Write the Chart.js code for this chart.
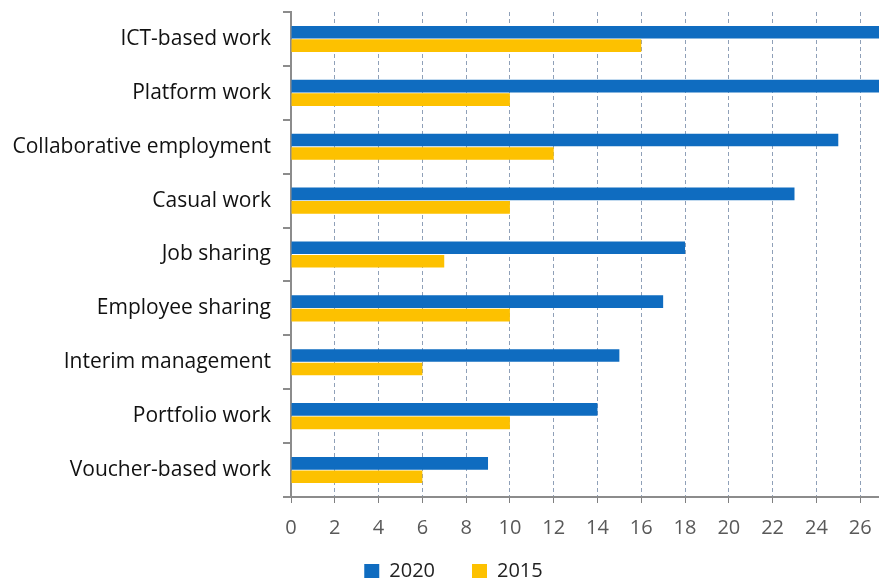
<!DOCTYPE html>
<html>
<head>
<meta charset="utf-8">
<script src="https://cdn.jsdelivr.net/npm/chart.js@4"></script>
<style>
  html, body { margin: 0; padding: 0; background: #ffffff; }
  #wrap { width: 879px; height: 581px; }
</style>
</head>
<body>
<div id="wrap"><canvas id="workChart" width="879" height="581"></canvas></div>
<script>
// Forms of employment, share in percent
const categories = [
  "ICT-based work",
  "Platform work",
  "Collaborative employment",
  "Casual work",
  "Job sharing",
  "Employee sharing",
  "Interim management",
  "Portfolio work",
  "Voucher-based work",
];
const values2020 = [28, 29, 25, 23, 18, 17, 15, 14, 9];
const values2015 = [16, 10, 12, 10, 7, 10, 6, 10, 6];
const seriesNames = ["2020", "2015"];
const xTicks = [0, 2, 4, 6, 8, 10, 12, 14, 16, 18, 20, 22, 24, 26];

const blue = "#0f6cc0";
const yellow = "#fdc100";

// let the axis labels draw outside their (squeezed) layout boxes
const unclipLabels = {
  id: "unclipLabels",
  afterLayout(chart) {
    chart.scales.x.bottom = chart.height;
    chart.scales.y.left = 0;
  },
};

const ctx = document.getElementById("workChart").getContext("2d");
const workChart = new Chart(ctx, {
  type: "bar",
  data: {
    labels: categories,
    datasets: [
      {
        label: seriesNames[0],
        data: values2020,
        backgroundColor: blue,
        borderWidth: 0,
        categoryPercentage: 0.5,
        barPercentage: 0.94,
      },
      {
        label: seriesNames[1],
        data: values2015,
        backgroundColor: yellow,
        borderWidth: 0,
        categoryPercentage: 0.5,
        barPercentage: 0.94,
      },
    ],
  },
  plugins: [unclipLabels],
  options: {
    indexAxis: "y",
    responsive: false,
    animation: false,
    layout: { padding: { top: 12, right: 0, bottom: -10, left: 28 } },
    plugins: {
      tooltip: { enabled: false },
      legend: {
        position: "bottom",
        labels: {
          font: { family: "Open Sans", size: 20 },
          color: "#222222",
          boxWidth: 15,
          boxHeight: 14,
          padding: 37,
        },
      },
    },
    scales: {
      x: {
        min: 0,
        max: 26.86,
        afterBuildTicks: (scale) => {
          scale.ticks = xTicks.map((v) => ({ value: v }));
        },
        afterFit: (scale) => {
          scale.height = 27;
          scale.paddingLeft = 0;
          scale.paddingRight = 0;
        },
        ticks: {
          font: { family: "Open Sans", size: 20 },
          color: "#595959",
          padding: 13,
          maxRotation: 0,
        },
        grid: {
          color: "#8fa0b8",
          tickBorderDash: [],
          tickColor: "#808080",
          tickLength: 6,
        },
        border: { display: true, color: "#8c8c8c", width: 2, dash: [4, 3] },
      },
      y: {
        afterFit: (scale) => {
          scale.width = 263;
          scale.paddingTop = 0;
          scale.paddingBottom = 0;
        },
        ticks: {
          font: { family: "Open Sans", size: 21 },
          color: "#111111",
          padding: 12,
        },
        grid: {
          drawOnChartArea: false,
          color: "#8c8c8c",
          tickLength: 8,
          lineWidth: 2,
        },
        border: { display: true, color: "#8c8c8c", width: 2 },
      },
    },
  },
});
</script>
</body>
</html>
